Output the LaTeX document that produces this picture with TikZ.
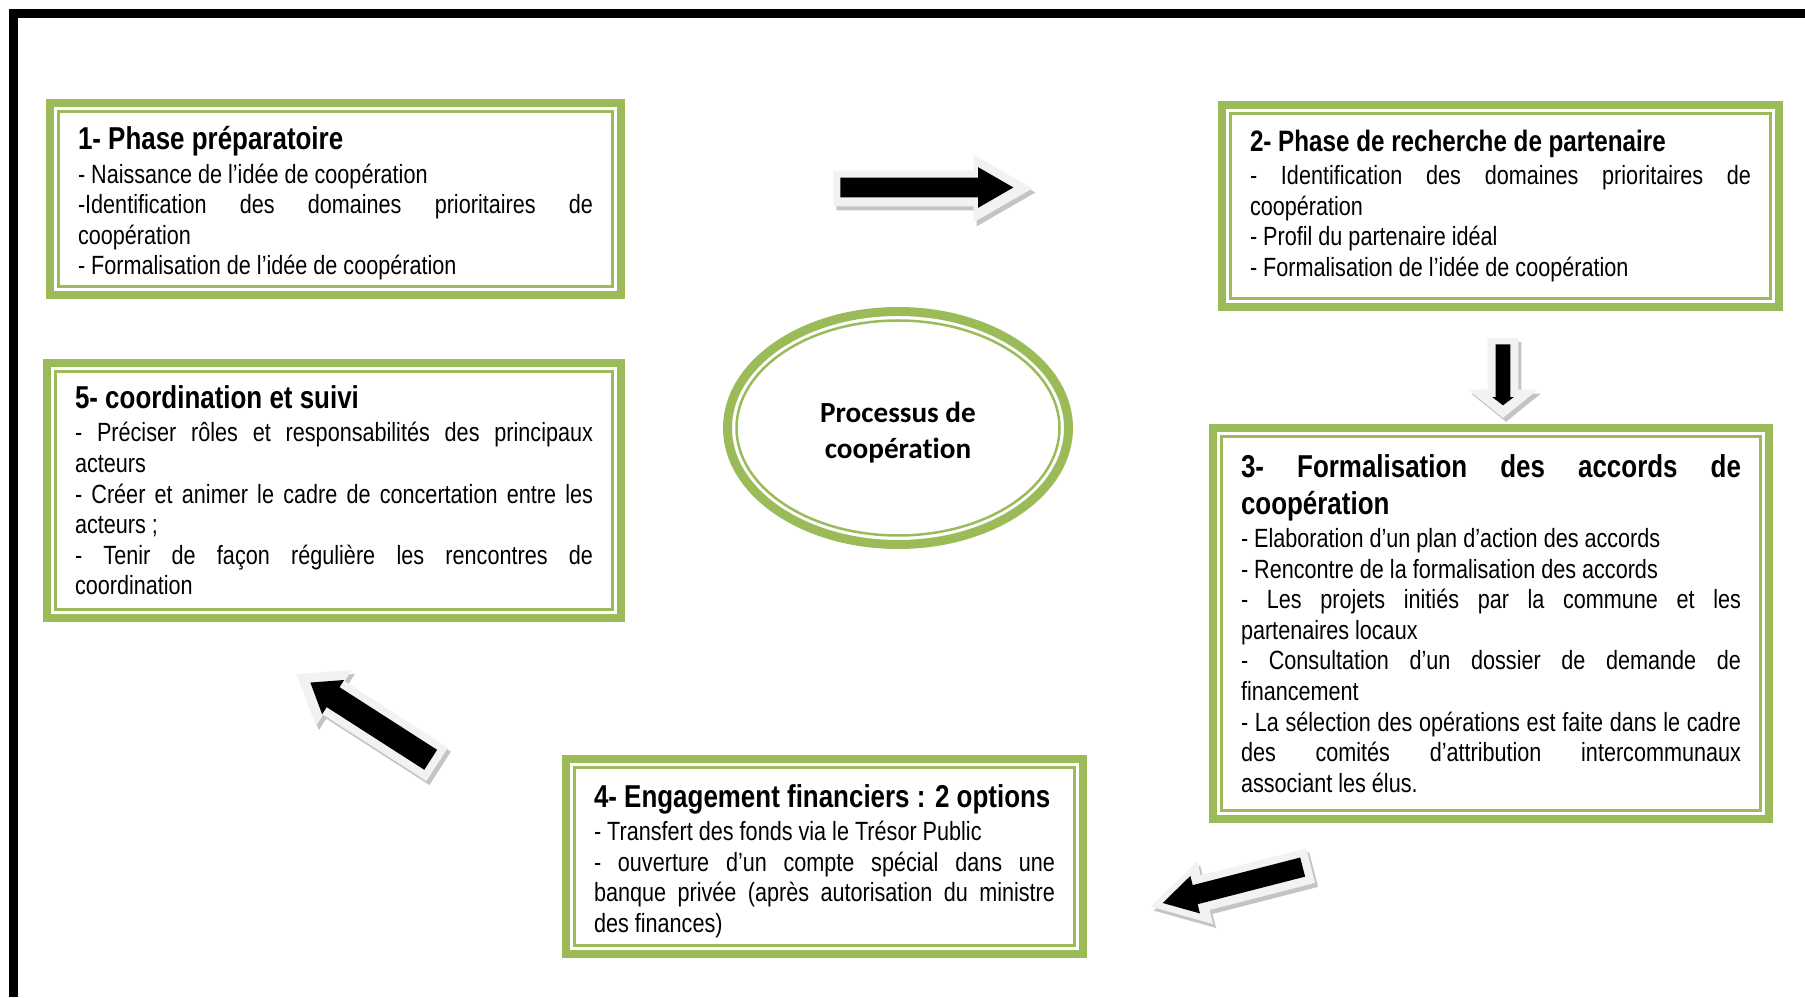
\documentclass[tikz,border=0pt]{standalone}
\usepackage{fontspec}
\setmainfont{Liberation Sans}[FakeStretch=0.82]
\newfontfamily\ovalfont{Carlito}[Ligatures=NoCommon]
\usetikzlibrary{shapes.geometric,shapes.arrows,shadows}

\definecolor{phasegreen}{HTML}{9BBB59}
\definecolor{rimgray}{HTML}{F2F2F2}
\definecolor{shadegray}{HTML}{C4C4C4}

\newcommand{\phasehead}[2][18]{{\fontsize{#1}{21}\selectfont\bfseries #2\par}\vspace{1.5pt}}
\newcommand{\phasetext}[2]{\parbox{#1}{\fontsize{15}{17.4}\selectfont
    \hyphenpenalty=10000 \exhyphenpenalty=10000 \tolerance=9999 #2}}

\begin{document}
\begin{tikzpicture}[
    phase/.style={draw=phasegreen, line width=0.16cm, fill=white, inner sep=0pt},
    rimline/.style={draw=phasegreen, line width=0.06cm},
    arrowrim/.style={single arrow, anchor=tail, fill=rimgray, inner xsep=0pt,
        drop shadow={shadow xshift=0.06cm, shadow yshift=-0.08cm, fill=shadegray, opacity=1}},
    arrowcore/.style={single arrow, anchor=tail, fill=black, inner xsep=0pt},
]
\useasboundingbox (0,0) rectangle (36.1,19.94);

% page frame
\draw[line width=0.18cm] (0.27,0) -- (0.27,19.67) -- (36.1,19.67);

% phases
\node[phase, minimum width=11.42cm, minimum height=3.84cm] (p1) at (6.71,15.96) {\phasetext{10.3cm}{
    \vspace*{0.18cm}
    \phasehead{1- Phase préparatoire}
    - Naissance de l’idée de coopération\par
    -Identification des domaines prioritaires de\linebreak coopération\par
    - Formalisation de l’idée de coopération}};
\node[phase, minimum width=11.14cm, minimum height=4.04cm] (p2) at (30.01,15.82) {\phasetext{10.02cm}{
    \phasehead[16.8]{2- Phase de recherche de partenaire}
    - Identification des domaines prioritaires de\linebreak coopération\par
    - Profil du partenaire idéal\par
    - Formalisation de l’idée de coopération}};
\node[phase, minimum width=11.12cm, minimum height=7.82cm] (p3) at (29.82,7.47) {\phasetext{10.0cm}{
    \phasehead{3- Formalisation des accords de\linebreak coopération}
    - Elaboration d’un plan d’action des accords\par
    - Rencontre de la formalisation des accords\par
    - Les projets initiés par la commune et les\linebreak partenaires locaux\par
    - Consultation d’un dossier de demande de\linebreak financement\par
    - La sélection des opérations est faite dans le cadre\linebreak des comités d’attribution intercommunaux\linebreak associant les élus.}};
\node[phase, minimum width=10.34cm, minimum height=3.9cm] (p4) at (16.49,2.81) {\phasetext{9.22cm}{
    \vspace*{0.18cm}
    \phasehead{4- Engagement financiers : 2 options}
    - Transfert des fonds via le Trésor Public\par
    - ouverture d’un compte spécial dans une\linebreak banque privée (après autorisation du ministre\linebreak des finances)}};
\node[phase, minimum width=11.48cm, minimum height=5.1cm] (p5) at (6.68,10.13) {\phasetext{10.36cm}{
    \phasehead{5- coordination et suivi}
    - Préciser rôles et responsabilités des principaux\linebreak acteurs\par
    - Créer et animer le cadre de concertation entre les\linebreak acteurs ;\par
    - Tenir de façon régulière les rencontres de\linebreak coordination}};

% thin inner frames
\foreach \p in {p1,p2,p3,p4,p5}
    \draw[rimline] ([shift={(0.25,0.25)}]\p.south west) rectangle ([shift={(-0.25,-0.25)}]\p.north east);

% centre
\node[ellipse, draw=phasegreen, line width=0.18cm, minimum width=6.82cm, minimum height=4.66cm,
    inner sep=0pt, font=\ovalfont\bfseries\fontsize{16.6}{20.3}\selectfont]
    (core) at (17.96,11.38) {\parbox{3.6cm}{\vspace*{0.18cm}\centering Processus de\\coopération}};
\draw[rimline, line width=0.05cm] (core.center) ellipse (3.23cm and 2.15cm);

% flow arrows
\node[arrowrim, inner ysep=0.35cm, minimum height=3.98cm, minimum width=1.34cm,
    single arrow head extend=0.32cm, single arrow tip angle=60] (a12r) at (16.66,16.17) {};
\node[arrowcore, inner ysep=0.19cm, minimum height=3.46cm, minimum width=0.8cm,
    single arrow head extend=0.21cm, single arrow tip angle=60] (a12) at (16.8,16.19) {};

\node[arrowrim, rotate=-90, inner ysep=0.3cm, minimum height=1.6cm, minimum width=1.38cm,
    single arrow head extend=0.39cm, single arrow tip angle=102] (a23r) at (30.06,13.19) {};
\node[arrowcore, rotate=-90, inner ysep=0.14cm, minimum height=1.22cm, minimum width=0.42cm,
    single arrow head extend=0.07cm, single arrow tip angle=105] (a23) at (30.06,13.06) {};

\node[arrowrim, rotate=194.4, inner ysep=0.35cm, minimum height=3.3cm, minimum width=1.28cm,
    single arrow head extend=0.29cm, single arrow tip angle=60] (a34r) at (26.22,2.63) {};
\node[arrowcore, rotate=194.4, inner ysep=0.19cm, minimum height=2.89cm, minimum width=0.76cm,
    single arrow head extend=0.19cm, single arrow tip angle=60] (a34) at (26.06,2.6) {};

\node[arrowrim, rotate=147.3, inner ysep=0.39cm, minimum height=3.34cm, minimum width=1.32cm,
    single arrow head extend=0.27cm, single arrow tip angle=74] (a45r) at (8.75,4.65) {};
\node[arrowcore, rotate=147.3, inner ysep=0.23cm, minimum height=2.86cm, minimum width=0.8cm,
    single arrow head extend=0.17cm, single arrow tip angle=74] (a45) at (8.62,4.74) {};

\end{tikzpicture}
\end{document}
